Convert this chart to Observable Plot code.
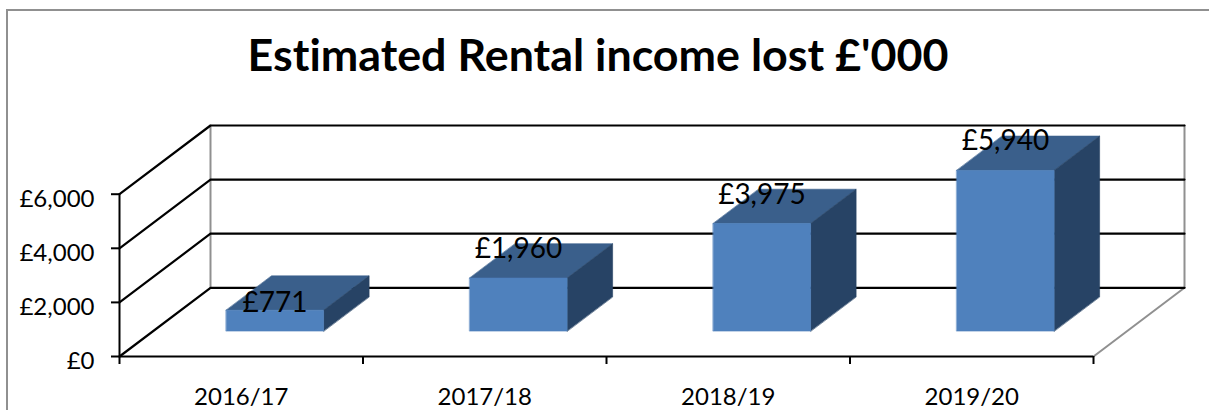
<!DOCTYPE html>
<html><head><meta charset="utf-8">
<script src="https://cdn.jsdelivr.net/npm/d3@7"></script>
<script src="https://cdn.jsdelivr.net/npm/@observablehq/plot@0.6"></script>
<style>
html,body{margin:0;padding:0;background:#fff;overflow:hidden}
#wrap{position:relative;width:1209px;height:410px;overflow:hidden;font-family:Lato,sans-serif;font-variant-ligatures:none}
#edge{position:absolute;left:6px;top:9px;width:1300px;height:500px;border:2px solid #909090;box-sizing:border-box}
#title{position:relative;height:100px;line-height:109px;text-align:center;font-weight:700;font-size:44.8px;color:#000;padding-right:13px;box-sizing:border-box}
svg{display:block;position:relative}
</style></head><body>
<div id="wrap"><div id="edge"></div><div id="title">Estimated Rental income lost £'000</div></div>
<script>
const categories = ["2016/17","2017/18","2018/19","2019/20"];
const values = [771,1960,3975,5940];
const yTicks = [0,2000,4000,6000];

const depthX = 0.3737, depthY = 2540;        // floor depth in scale units
const barLo = 0.3, barHi = 0.7, d0 = 0.37, d1 = 0.87;
const P = (c, v, d) => ({x: c + d*depthX, y: v + d*depthY});

const table = categories.map((name,i)=>({name,i,value:values[i]}));
const faces = (pts, id) => pts.map(p => ({...p, id}));
const topFaces = table.flatMap(t => faces([
  P(t.i+barLo,t.value,d0),P(t.i+barHi,t.value,d0),P(t.i+barHi,t.value,d1),P(t.i+barLo,t.value,d1)], t.i));
const sideFaces = table.flatMap(t => faces([
  P(t.i+barHi,0,d0),P(t.i+barHi,t.value,d0),P(t.i+barHi,t.value,d1),P(t.i+barHi,0,d1)], t.i));
const frontFaces = table.flatMap(t => faces([
  P(t.i+barLo,0,d0),P(t.i+barHi,0,d0),P(t.i+barHi,t.value,d0),P(t.i+barLo,t.value,d0)], t.i));
const n = categories.length, vMax = yTicks[yTicks.length-1];
const grid = yTicks.flatMap(v => faces([P(0,v,0),P(0,v,1),P(n,v,1)], v));
const grayEdges = [
  ...faces([P(0,0,1),P(0,vMax,1)],"a"),
  ...faces([P(n,0,1),P(n,vMax,1)],"b"),
  ...faces([P(n,0,0),P(n,0,1)],"c")];
const labels = table.map(t => ({...P(t.i+0.5,t.value,d0), text:"£"+d3.format(",")(t.value), small:t.value<1000}));
const money = v => "£"+d3.format(",")(v);

const face = (data, color) => Plot.line(data,{x:"x",y:"y",z:"id",fill:color,stroke:color,strokeWidth:0.6,curve:"linear-closed"});

const plot = Plot.plot({
  width:1209, height:310,
  marginLeft:119, marginRight:25, marginTop:25, marginBottom:54,
  x:{domain:[0,n+depthX], axis:null},
  y:{domain:[0,vMax+depthY], axis:null},
  style:{fontFamily:"Lato, sans-serif", background:"transparent", overflow:"visible"},
  marks:[
    Plot.line(grayEdges,{x:"x",y:"y",z:"id",stroke:"#909090",strokeWidth:2}),
    Plot.line(grid,{x:"x",y:"y",z:"id",stroke:"#000",strokeWidth:2.2}),
    Plot.ruleX([0],{y1:0,y2:vMax,stroke:"#000",strokeWidth:2}),
    Plot.ruleY([0],{x1:0,x2:n,stroke:"#000",strokeWidth:2}),
    Plot.axisY({ticks:yTicks,tickSize:8,tickFormat:()=>"",stroke:"#000",strokeWidth:2,label:null}),
    Plot.axisY({ticks:yTicks,tickSize:0,tickPadding:25,dy:5,tickFormat:money,fontSize:24,color:"#000",label:null}),
    Plot.axisX({ticks:d3.range(n+1),tickSize:8,tickFormat:()=>"",stroke:"#000",strokeWidth:2,label:null}),
    Plot.axisX({ticks:d3.range(n).map(i=>i+0.5),tickSize:0,tickPadding:31,tickFormat:v=>categories[Math.floor(v)],fontSize:24,color:"#000",label:null}),
    face(topFaces,"#3A5F8B"),
    face(sideFaces,"#274365"),
    face(frontFaces,"#4F81BD"),
    Plot.text(labels.filter(d=>!d.small),{x:"x",y:"y",text:"text",dy:-29,fontSize:28,fill:"#000"}),
    Plot.text(labels.filter(d=>d.small),{x:"x",y:"y",text:"text",dy:-7,fontSize:28,fill:"#000"})
  ]
});
document.getElementById("wrap").appendChild(plot);
</script>
</body></html>
